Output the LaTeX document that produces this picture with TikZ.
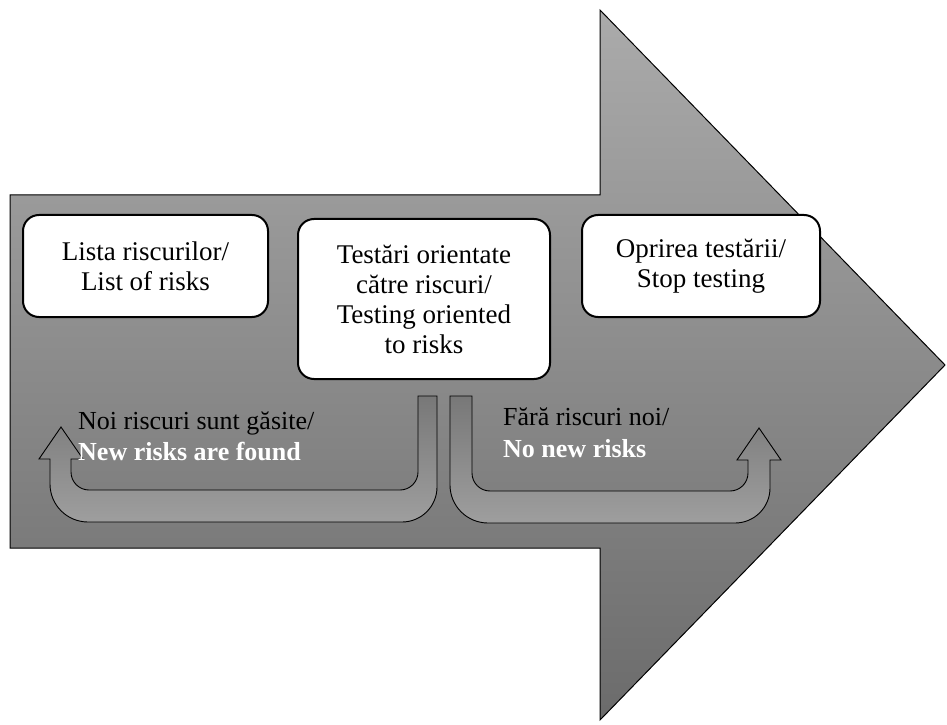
\documentclass[tikz,border=0pt]{standalone}
\usepackage{fontspec}
\setmainfont{Liberation Serif}
\tikzset{
  stepbox/.style={draw=black, line width=2pt, rounded corners=16pt, fill=white,
    align=center, font=\fontsize{27}{30}\selectfont},
  uturn/.style={draw=black, line width=0.9pt, top color=black!53, bottom color=black!38},
  lbl/.style={anchor=base west, inner sep=0pt, font=\fontsize{26}{30}\selectfont}
}
\begin{document}
\begin{tikzpicture}[x=1pt, y=1pt]
  \useasboundingbox (0,0) rectangle (947,724);
  % the big grey arrow carries the whole process
  \draw[line width=1pt, top color=black!33, bottom color=black!58]
    (10,529) -- (600,529) -- (600,714) -- (945,359) -- (600,4) -- (600,176) -- (10,176) -- cycle;

  \node[stepbox, minimum width=245pt, minimum height=102pt] (risklist) at (145.5,458)
    {Lista riscurilor/\\List of risks};
  \node[stepbox, minimum width=252pt, minimum height=160pt] (riskbased) at (424,425)
    {Testări orientate\\către riscuri/\\Testing oriented\\to risks};
  \node[stepbox, minimum width=238pt, minimum height=102pt] (stoptest) at (701,458)
    {Oprirea testării/\\Stop testing};

  % back to the list when something new shows up
  \draw[uturn] (418,328) -- (418,252) arc[start angle=0, end angle=-90, radius=18]
    -- (89,234) arc[start angle=270, end angle=180, radius=18]
    -- (71,265) -- (83,265) -- (61,297) -- (39,265) -- (50,265)
    -- (50,240) arc[start angle=180, end angle=270, radius=38]
    -- (402,202) arc[start angle=270, end angle=360, radius=35] -- (437,328) -- cycle;
  % forward to the end when nothing new is left
  \draw[uturn] (472,328) -- (472,251) arc[start angle=180, end angle=270, radius=18]
    -- (730,233) arc[start angle=-90, end angle=0, radius=18]
    -- (748,264) -- (737,264) -- (759,296) -- (781,264) -- (770,264)
    -- (770,236) arc[start angle=0, end angle=-90, radius=35]
    -- (488,201) arc[start angle=270, end angle=180, radius=38] -- (450,328) -- cycle;

  \node[lbl] (newfoundro) at (78,295) {Noi riscuri sunt găsite/};
  \node[lbl, white, font=\fontsize{26}{30}\selectfont\bfseries] (newfound) at (78,264) {New risks are found};
  \node[lbl] (nonewro) at (503,299) {Fără riscuri noi/};
  \node[lbl, white, font=\fontsize{26}{30}\selectfont\bfseries] (nonew) at (503,267) {No new risks};
\end{tikzpicture}
\end{document}
